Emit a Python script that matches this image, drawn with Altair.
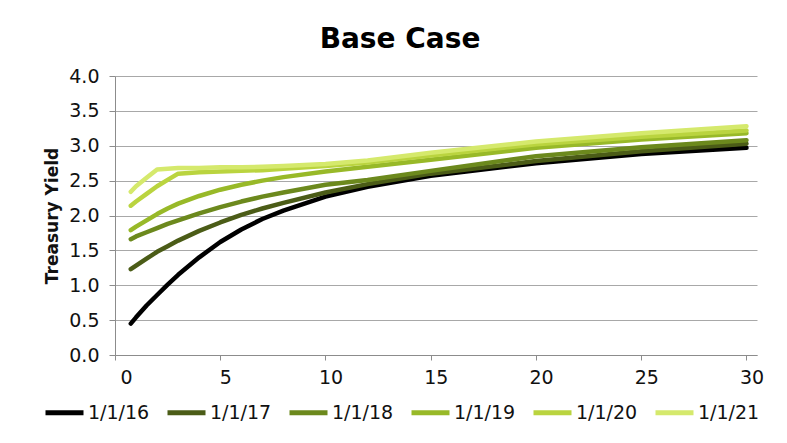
import altair as alt
import pandas as pd

maturity = [0.75, 1, 1.5, 2, 2.5, 3, 4, 5, 6, 7, 8, 10, 12, 15, 20, 25, 30]
curve_16 = [0.45, 0.54, 0.71, 0.86, 1.01, 1.15, 1.40, 1.62, 1.80, 1.95, 2.07, 2.27, 2.41, 2.57, 2.75, 2.88, 2.97]
curve_17 = [1.23, 1.28, 1.38, 1.48, 1.56, 1.64, 1.78, 1.90, 2.01, 2.10, 2.18, 2.33, 2.45, 2.60, 2.78, 2.92, 3.03]
curve_18 = [1.66, 1.70, 1.76, 1.82, 1.88, 1.93, 2.03, 2.12, 2.20, 2.27, 2.33, 2.44, 2.51, 2.64, 2.85, 2.98, 3.08]
curve_19 = [1.79, 1.84, 1.93, 2.02, 2.10, 2.17, 2.28, 2.37, 2.44, 2.50, 2.55, 2.63, 2.70, 2.80, 2.97, 3.09, 3.18]
curve_20 = [2.14, 2.20, 2.31, 2.42, 2.51, 2.60, 2.62, 2.63, 2.64, 2.65, 2.67, 2.71, 2.76, 2.86, 3.02, 3.13, 3.22]
curve_21 = [2.34, 2.42, 2.54, 2.66, 2.67, 2.68, 2.68, 2.69, 2.69, 2.70, 2.71, 2.74, 2.79, 2.90, 3.06, 3.18, 3.28]

series_names = ["1/1/16", "1/1/17", "1/1/18", "1/1/19", "1/1/20", "1/1/21"]
series_values = [curve_16, curve_17, curve_18, curve_19, curve_20, curve_21]
series_colors = ["#000000", "#4b5c17", "#6c891d", "#98b928", "#bad43f", "#d5e96c"]

x_ticks = [0, 5, 10, 15, 20, 25, 30]
y_ticks = [0, 0.5, 1, 1.5, 2, 2.5, 3, 3.5, 4]

rows = []
for name, vals in zip(series_names, series_values):
    for m, v in zip(maturity, vals):
        rows.append({"Maturity": m, "Yield": v, "Date": name})
df = pd.DataFrame(rows)

FONT = "DejaVu Sans"

chart = (
    alt.Chart(df)
    .mark_line(strokeWidth=4.5, strokeCap="round", strokeJoin="round")
    .encode(
        x=alt.X(
            "Maturity:Q",
            scale=alt.Scale(domain=[0, 30.5], nice=False, zero=False),
            axis=alt.Axis(
                values=x_ticks,
                title="",
                grid=False,
                labelOffset=5,
                labelPadding=8,
                tickSize=5,
                labelFontSize=19,
                labelFont=FONT,
                labelColor="#111111",
                domainColor="#8c8c8c",
                tickColor="#8c8c8c",
            ),
        ),
        y=alt.Y(
            "Yield:Q",
            scale=alt.Scale(domain=[0, 4], nice=False),
            axis=alt.Axis(
                values=y_ticks,
                format=".1f",
                title="Treasury Yield",
                titleFont=FONT,
                titleFontSize=17,
                titleFontWeight="bold",
                titleColor="#111111",
                titleX=-58,
                titleBaseline="alphabetic",
                labelFontSize=19,
                labelFont=FONT,
                labelColor="#111111",
                labelPadding=10,
                tickSize=6,
                grid=True,
                gridColor="#a8a8a8",
                domainColor="#8c8c8c",
                tickColor="#8c8c8c",
            ),
        ),
        color=alt.Color(
            "Date:N",
            scale=alt.Scale(domain=series_names, range=series_colors),
            legend=alt.Legend(
                title="",
                titlePadding=0,
                orient="none",
                direction="horizontal",
                columns=6,
                legendX=-72,
                legendY=315,
                symbolType="stroke",
                symbolSize=1444,
                symbolStrokeWidth=5,
                labelFontSize=19,
                labelFont=FONT,
                labelColor="#111111",
                labelOffset=2,
                columnPadding=7,
            ),
        ),
    )
    .properties(
        width=642,
        height=279,
        title=alt.TitleParams(
            "Base Case",
            font=FONT,
            fontSize=28,
            fontWeight="bold",
            color="#000000",
            anchor="middle",
            dx=-36,
            offset=13,
        ),
        autosize=alt.AutoSizeParams(type="none"),
        padding={"left": 107, "top": 68, "right": 22, "bottom": 80},
    )
    .configure_view(stroke="transparent")
)

chart.save("out.html", embed_options={"renderer": "svg", "actions": False})
